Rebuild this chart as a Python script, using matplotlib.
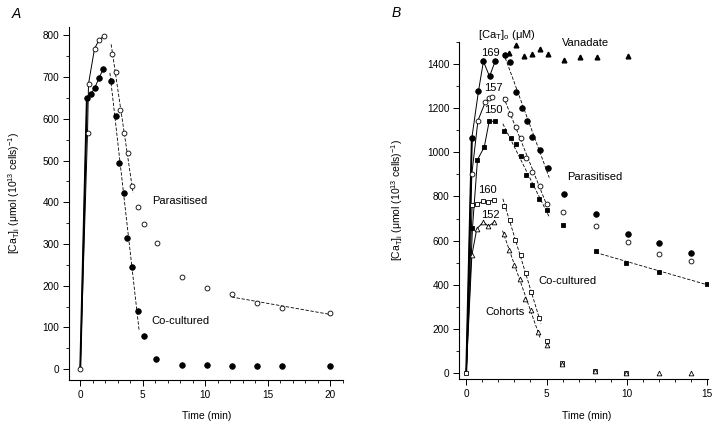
import numpy as np
import matplotlib
matplotlib.use('Agg')
import matplotlib.pyplot as plt
from matplotlib.ticker import MultipleLocator

plt.rcParams['font.family'] = ['Liberation Sans', 'DejaVu Sans']
plt.rcParams['mathtext.default'] = 'regular'

# ---- panel A data ----
par_a_t = [0, 0.58, 0.66, 1.14, 1.49, 1.86, 2.57, 2.84, 3.19, 3.5, 3.8, 4.12, 4.6, 5.1, 6.1, 8.1, 10.1, 12.1, 14.1, 16.1, 20]
par_a_v = [0, 567, 684, 768, 788, 798, 756, 713, 620, 567, 518, 439, 388, 348, 303, 222, 194, 179, 158, 146, 135]
cc_a_t = [0, 0.53, 0.85, 1.14, 1.49, 1.83, 2.47, 2.84, 3.1, 3.5, 3.75, 4.12, 4.6, 5.07, 6.05, 8.1, 10.1, 12.1, 14.1, 16.1, 20]
cc_a_v = [0, 650, 659, 673, 697, 719, 690, 607, 493, 422, 314, 244, 139, 80, 24, 11, 9, 8, 7, 8, 7]

# ---- panel B data ----
p169_t = [0, 0.35, 0.76, 1.07, 1.45, 1.8, 2.42, 2.73, 3.08, 3.46, 3.79, 4.12, 4.59, 5.07, 6.08, 8.07, 10.04, 12.0, 14.0]
p169_v = [0, 1065, 1275, 1411, 1343, 1411, 1441, 1409, 1271, 1200, 1140, 1068, 1012, 930, 809, 719, 629, 591, 546]
p157_t = [0, 0.35, 0.73, 1.18, 1.43, 1.63, 2.42, 2.75, 3.08, 3.42, 3.72, 4.08, 4.59, 5.05, 6.04, 8.07, 10.04, 12.0, 14.0]
p157_v = [0, 903, 1143, 1226, 1245, 1250, 1240, 1172, 1112, 1063, 975, 912, 845, 765, 729, 665, 594, 541, 507]
p150_t = [0, 0.39, 0.7, 1.12, 1.43, 1.76, 2.38, 2.77, 3.08, 3.41, 3.72, 4.08, 4.55, 5.05, 6.04, 8.07, 9.97, 11.98, 15.0]
p150_v = [0, 659, 966, 1023, 1140, 1140, 1098, 1063, 1035, 985, 895, 850, 790, 737, 669, 553, 501, 456, 406]
c160_t = [0, 0.37, 0.66, 1.07, 1.38, 1.7, 2.38, 2.73, 3.04, 3.4, 3.7, 4.02, 4.55, 5.01, 5.98, 8.0, 9.97]
c160_v = [0, 760, 764, 779, 775, 785, 755, 695, 601, 534, 454, 368, 248, 147, 45, 10, 0]
c152_t = [0, 0.35, 0.66, 1.07, 1.38, 1.74, 2.36, 2.67, 2.98, 3.35, 3.66, 4.04, 4.49, 5.0, 5.98, 8.0, 9.97, 12.0, 13.97]
c152_v = [0, 534, 654, 684, 665, 684, 632, 556, 492, 426, 335, 286, 185, 128, 40, 10, 3, 3, 0]
van_t = [2.67, 3.08, 3.6, 4.1, 4.59, 5.11, 6.08, 7.08, 8.11, 10.07]
van_v = [1451, 1485, 1436, 1444, 1465, 1444, 1417, 1432, 1429, 1436]

ylab = '[Ca$_T$]$_i$ (μmol (10$^{13}$ cells)$^{-1}$)'


def fit_line(ax, t, v, i0, i1, ext=0.1):
    # dashed regression line over points i0..i1
    t = np.array(t[i0:i1 + 1]); v = np.array(v[i0:i1 + 1])
    k, b = np.polyfit(t, v, 1)
    xs = np.array([t.min() - ext, t.max() + ext])
    ax.plot(xs, k * xs + b, color='black', lw=0.6, ls=(0, (4, 2)), zorder=1)


def series(ax, t, v, marker, filled, ms, n_rise):
    # solid line through rising phase, then markers
    ax.plot(t[:n_rise], v[:n_rise], color='black', lw=0.7, zorder=1)
    ax.plot(t[1:], v[1:], ls='none', marker=marker, ms=ms, mec='black',
            mfc='black' if filled else 'white', mew=0.6, zorder=3)


def style(ax):
    for s in ['top', 'right']:
        ax.spines[s].set_visible(False)
    for s in ['left', 'bottom']:
        ax.spines[s].set_linewidth(0.8)
    ax.tick_params(which='major', direction='out', length=4, width=0.7, labelsize=7.2, pad=3)
    ax.tick_params(which='minor', direction='out', length=2, width=0.6)


fig = plt.figure(figsize=(7.2, 4.23), dpi=100)

# ---------- A ----------
axA = fig.add_axes([69 / 720, 1 - 380 / 423, 274 / 720, 353 / 423])
series(axA, par_a_t, par_a_v, 'o', False, 3.5, 6)
series(axA, cc_a_t, cc_a_v, 'o', True, 4, 6)
axA.plot(cc_a_t[:2], cc_a_v[:2], color='black', lw=1.4, zorder=1)
axA.plot(par_a_t[0], par_a_v[0], ls='none', marker='o', ms=3.5, mec='black', mfc='white', mew=0.6, zorder=3)
fit_line(axA, par_a_t, par_a_v, 6, 11)
fit_line(axA, cc_a_t, cc_a_v, 6, 12)
fit_line(axA, par_a_t, par_a_v, 17, 20, ext=0)
axA.set_xlim(-0.9, 21)
axA.set_ylim(-26, 820)
axA.xaxis.set_major_locator(MultipleLocator(5))
axA.xaxis.set_minor_locator(MultipleLocator(1))
axA.yaxis.set_major_locator(MultipleLocator(100))
axA.yaxis.set_minor_locator(MultipleLocator(50))
style(axA)
axA.set_xlabel('Time (min)', fontsize=7.5)
axA.set_ylabel(ylab, fontsize=7.5)
axA.xaxis.set_label_coords(0.504, -0.088)
axA.yaxis.set_label_coords(-0.17, 0.53)
axA.text(5.71, 403, 'Parasitised', fontsize=8, ha='left', va='center')
axA.text(5.71, 116, 'Co-cultured', fontsize=8, ha='left', va='center')
fig.text(12 / 720, 1 - 14 / 423, 'A', fontsize=10, style='italic', ha='left', va='center')

# ---------- B ----------
axB = fig.add_axes([459 / 720, 1 - 379 / 423, 249 / 720, 337.3 / 423])
series(axB, p169_t, p169_v, 'o', True, 4, 6)
series(axB, p157_t, p157_v, 'o', False, 3.5, 6)
series(axB, p150_t, p150_v, 's', True, 3.5, 6)
series(axB, c160_t, c160_v, 's', False, 3.2, 6)
series(axB, c152_t, c152_v, '^', False, 3.4, 6)
axB.plot(p169_t[:2], p169_v[:2], color='black', lw=1.4, zorder=1)
axB.plot(c160_t[0], c160_v[0], ls='none', marker='s', ms=3.2, mec='black', mfc='white', mew=0.6, zorder=3)
axB.plot(van_t, van_v, ls='none', marker='^', ms=3.4, color='black', zorder=3)
fit_line(axB, p169_t, p169_v, 6, 13)
fit_line(axB, p157_t, p157_v, 6, 13)
fit_line(axB, p150_t, p150_v, 6, 13)
fit_line(axB, c160_t, c160_v, 6, 12)
fit_line(axB, c152_t, c152_v, 6, 12)
fit_line(axB, p150_t, p150_v, 15, 18, ext=0)
axB.set_xlim(-0.45, 15.05)
axB.set_ylim(-26, 1500)
axB.xaxis.set_major_locator(MultipleLocator(5))
axB.xaxis.set_minor_locator(MultipleLocator(1))
axB.yaxis.set_major_locator(MultipleLocator(200))
axB.yaxis.set_minor_locator(MultipleLocator(100))
style(axB)
axB.set_xlabel('Time (min)', fontsize=7.5)
axB.set_ylabel(ylab, fontsize=7.5)
axB.xaxis.set_label_coords(0.514, -0.094)
axB.yaxis.set_label_coords(-0.217, 0.53)
axB.text(2.55, 1531, '[Ca$_T$]$_o$ (μM)', fontsize=8, ha='center', va='center', clip_on=False)
axB.text(7.45, 1496, 'Vanadate', fontsize=8, ha='center', va='center', clip_on=False)
axB.text(1.49, 1451, '169', fontsize=8, ha='center', va='center')
axB.text(1.69, 1291, '157', fontsize=8, ha='center', va='center')
axB.text(1.69, 1191, '150', fontsize=8, ha='center', va='center')
axB.text(1.32, 830, '160', fontsize=8, ha='center', va='center')
axB.text(1.49, 714, '152', fontsize=8, ha='center', va='center')
axB.text(6.25, 887, 'Parasitised', fontsize=8, ha='left', va='center')
axB.text(4.49, 417, 'Co-cultured', fontsize=8, ha='left', va='center')
axB.text(1.18, 275, 'Cohorts', fontsize=8, ha='left', va='center')
fig.text(391.7 / 720, 1 - 13.3 / 423, 'B', fontsize=10, style='italic', ha='left', va='center')

fig.savefig('out.png', dpi=100)
